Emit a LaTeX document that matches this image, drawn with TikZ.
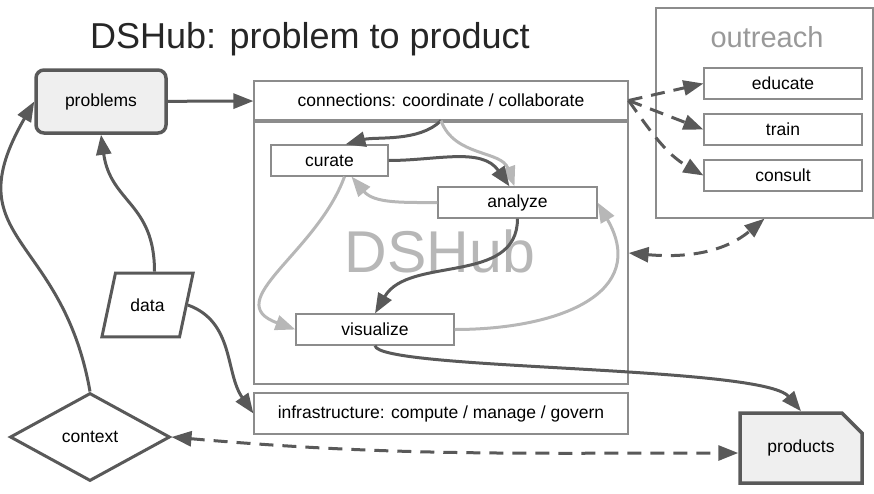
\documentclass[tikz,border=0pt]{standalone}
\usepackage{fontspec}
\setmainfont{Liberation Sans}
\usetikzlibrary{arrows.meta,shapes.geometric,shapes.misc}
\definecolor{darkline}{RGB}{89,89,89}
\definecolor{lightline}{RGB}{183,183,183}
\definecolor{boxline}{RGB}{140,140,140}
\definecolor{boxfill}{RGB}{239,239,239}

\begin{document}
\begin{tikzpicture}[x=1pt,y=1pt,>={Triangle[length=20pt,width=15pt]},
  every node/.style={font=\fontsize{17.5}{20}\selectfont,inner sep=0pt},
  box/.style={draw=boxline,line width=1.2pt,minimum height=31pt,fill=white},
  heavy/.style={draw=darkline,line width=3.5pt,fill=boxfill},
  dk/.style={draw=darkline,line width=3pt,->},
  lt/.style={draw=lightline,line width=3pt,->},
  dsh/.style={dk,dash pattern=on 14pt off 9pt}]
  \useasboundingbox (0,0) rectangle (874,-493);
  \node[anchor=base west,font=\fontsize{36}{40}\selectfont,text=black!85] (title) at (90,-48) {DSHub: problem to product};
  \node[box,minimum width=374pt,minimum height=262pt,fill=none] (hub) at (441,-253) {};
  \node[font=\fontsize{59}{60}\selectfont,text=lightline] (hubname) at (440,-251) {DSHub};
  \node[box,minimum width=217pt,minimum height=210pt,fill=none] (outreach) at (764.5,-113) {};
  \node[font=\fontsize{29}{32}\selectfont,text=black!40] (outname) at (767,-37) {outreach};
  \node[heavy,rounded corners=8pt,minimum width=130pt,minimum height=63pt] (problems) at (101,-101.5) {problems};
  \node[box,minimum width=374pt,minimum height=39pt] (conn) at (441,-100.5) {connections: coordinate / collaborate};
  \node[box,minimum width=374pt,minimum height=41pt] (infra) at (441,-413.5) {infrastructure: compute / manage / govern};
  \node[box,minimum width=117pt] (curate) at (329.5,-160.5) {curate};
  \node[box,minimum width=159pt] (analyze) at (517.5,-202.5) {analyze};
  \node[box,minimum width=158pt] (visualize) at (375,-329.5) {visualize};
  \node[box,minimum width=158pt] (educate) at (783,-83.5) {educate};
  \node[box,minimum width=158pt] (train) at (783,-129.5) {train};
  \node[box,minimum width=158pt] (consult) at (783,-175.5) {consult};
  \node[trapezium,trapezium left angle=78,trapezium right angle=102,draw=darkline,line width=3pt,
    inner xsep=15pt,inner ysep=25.5pt] (data) at (147.5,-305) {data};
  \node[diamond,draw=darkline,line width=3pt,minimum width=160pt,minimum height=88pt] (context) at (90,-437) {context};
  \node[heavy,chamfered rectangle,chamfered rectangle corners=north east,chamfered rectangle xsep=12pt,
    chamfered rectangle ysep=12pt,minimum width=122pt,minimum height=70pt] (products) at (801,-448) {products};
  \draw[dk] (problems) -- (conn);
  \draw[dk] ([xshift=7pt]data.north) to[out=90,in=-82,looseness=1.2] (problems.south);
  \draw[dk] (context.north) to[out=100,in=-120,looseness=1.4] (problems.west);
  \draw[dk] (data.east) to[out=-20,in=125] (infra.west);
  \draw[dk] (conn.south) to[out=-135,in=15,looseness=0.8] ([xshift=16pt]curate.north);
  \draw[lt] (conn.south) to[out=-70,in=110] ([xshift=-3pt]analyze.north);
  \draw[dk] (curate.east) to[out=0,in=125] ([xshift=-8pt]analyze.north);
  \draw[lt] (analyze.west) to[out=180,in=-50] ([xshift=22pt]curate.south);
  \draw[dk] (analyze.south) to[out=-90,in=60] (visualize.north);
  \draw[lt] ([xshift=15pt]curate.south) to[out=-110,in=160,looseness=1.3] (visualize.west);
  \draw[lt] (visualize.east) to[out=0,in=-60,looseness=1.4] (analyze.east);
  \draw[dk] (visualize.south) to[out=-83,in=130,out distance=25pt,in distance=60pt] (products.north);
  \draw[dsh] (conn.east) -- (educate.west);
  \draw[dsh] (conn.east) -- (train.west);
  \draw[dsh] (conn.east) to[out=-55,in=150] (consult.west);
  \draw[dsh,<->] (hub.east) to[out=-5,in=-140] (outreach.south);
  \draw[dsh,<->] (context.east) to[out=-5,in=180] ([yshift=-5pt]products.west);
\end{tikzpicture}
\end{document}
